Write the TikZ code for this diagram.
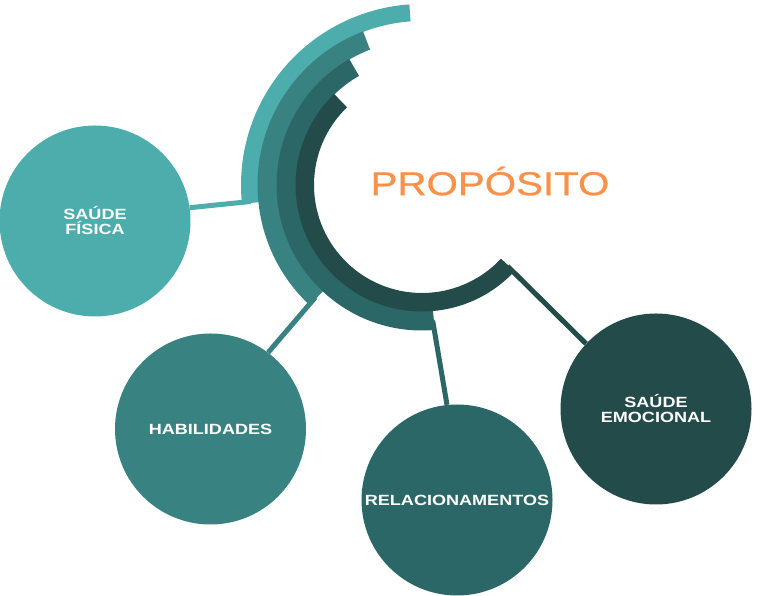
\documentclass[tikz,border=0pt]{standalone}
\usepackage{fontspec}
\newfontfamily\widefont[FakeStretch=1.22]{Liberation Sans}
\newfontfamily\titlefont[FakeStretch=1.22, FakeBold=0.8]{Liberation Sans}

\definecolor{tealA}{HTML}{4DADAD}
\definecolor{tealB}{HTML}{388382}
\definecolor{tealC}{HTML}{2C6767}
\definecolor{tealD}{HTML}{234B4A}
\definecolor{propOrange}{HTML}{F8924A}

\tikzset{
  topic/.style={circle, minimum size=191pt, inner sep=0pt, text=white, align=center,
    font=\widefont\bfseries\fontsize{14.8}{15}\selectfont},
  link/.style={line width=5pt},
}

\begin{document}
\begin{tikzpicture}[x=1pt, y=1pt]
\useasboundingbox (0,0) rectangle (768,596);

% Rings round the title
\begin{scope}[shift={(422,411)}]
  \fill[tealA] (94:164) arc[start angle=94, end angle=186, radius=164] -- (186:181) arc[start angle=186, end angle=94, radius=181] -- cycle;
  \fill[tealB] (111:145) arc[start angle=111, end angle=227, radius=145] -- (227:164.5) arc[start angle=227, end angle=111, radius=164.5] -- cycle;
  \fill[tealC] (120:126) arc[start angle=120, end angle=275, radius=126] -- (275:145.5) arc[start angle=275, end angle=120, radius=145.5] -- cycle;
  \fill[tealD] (134:108) arc[start angle=134, end angle=317, radius=108] -- (317:126.5) arc[start angle=317, end angle=134, radius=126.5] -- cycle;
  % ends of the rings
  \coordinate (endA) at (185.5:172);
  \coordinate (endB) at (226.5:155);
  \coordinate (endC) at (274.5:136);
  \coordinate (endD) at (316.5:118);
\end{scope}

% Title
\node[text=propOrange, font=\titlefont\fontsize{33}{33}\selectfont] (title) at (490,415) {PROPÓSITO};

% Topics
\node[topic, fill=tealA] (fisica) at (95,375) {SAÚDE\\FÍSICA};
\node[topic, fill=tealB] (habil) at (210.5,167) {HABILIDADES};
\node[topic, fill=tealC] (rel) at (457,96) {RELACIONAMENTOS};
\node[topic, fill=tealD] (emo) at (656,187) {SAÚDE\\EMOCIONAL};

% Links
\draw[link, tealA] (endA) -- (fisica.8);
\draw[link, tealB] (endB) -- (habil.53);
\draw[link, tealC] (endC) -- (rel.96);
\draw[link, tealD] (endD) -- (emo.137);
\end{tikzpicture}
\end{document}
